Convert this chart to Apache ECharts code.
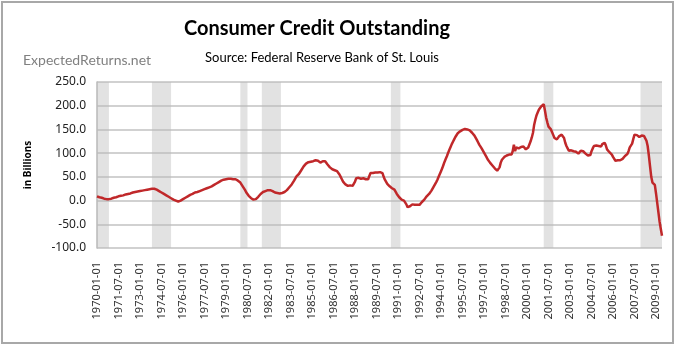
<!DOCTYPE html>
<html>
<head>
<meta charset="utf-8">
<script src="https://cdn.jsdelivr.net/npm/echarts@6/dist/echarts.min.js"></script>
<style>
html,body{margin:0;padding:0;background:#fff;}
#chart{width:680px;height:349px;}
</style>
</head>
<body>
<div id="chart"></div>
<script>
// Monthly categories 1970-01 .. 2009-06
var startYear = 1970, endYear = 2009, endMonth = 6;
var categories = [];
for (var y = startYear; y <= endYear; y++) {
  for (var m = 1; m <= 12; m++) {
    if (y === endYear && m > endMonth) break;
    categories.push(y + '-' + (m < 10 ? '0' + m : m) + '-01');
  }
}

// Year-over-year change in consumer credit outstanding (billions)
var v1970s = [
  9, 8, 7, 6, 6, 5, 4, 4, 3, 3, 3, 4,            // 1970
  4, 5, 6, 6, 7, 8, 9, 9, 10, 11, 11, 12,        // 1971
  13, 13, 14, 15, 15, 16, 17, 17, 18, 18, 19, 19,// 1972
  20, 20, 21, 22, 22, 23, 23, 24, 24, 25, 25, 26,// 1973
  25, 24, 23, 21, 20, 18, 17, 16, 14, 12, 11, 9, // 1974
  8, 6, 5, 3, 2, 1, 0, -1, -2, -1, 0, 2,         // 1975
  3, 5, 6, 8, 9, 11, 12, 13, 14, 15, 17, 18,     // 1976
  18, 19, 20, 21, 22, 23, 24, 25, 26, 27, 28, 29,// 1977
  30, 32, 33, 34, 36, 38, 39, 41, 42, 43, 44, 45,// 1978
  45, 46, 46, 47, 46, 46, 45, 46, 45, 44, 42, 41 // 1979
];
var v1980s = [
  38, 34, 30, 27, 22, 17, 13, 10, 7, 5, 3, 2,    // 1980
  1, 3, 5, 8, 11, 14, 16, 18, 19, 20, 21, 22,    // 1981
  22, 22, 21, 20, 19, 17, 16, 16, 15, 15, 16, 16,// 1982
  17, 18, 20, 22, 25, 28, 31, 34, 37, 42, 46, 51,// 1983
  53, 56, 60, 64, 68, 72, 75, 78, 80, 81, 82, 82,// 1984
  83, 83, 84, 85, 86, 84, 82, 80, 81, 83, 84, 83,// 1985
  80, 76, 72, 70, 68, 66, 65, 64, 63, 62, 60, 55,// 1986
  50, 45, 40, 36, 34, 32, 31, 31, 32, 33, 31, 34,// 1987
  40, 47, 50, 48, 47, 46, 48, 47, 46, 45, 44, 45,// 1988
  52, 58, 59, 58, 58, 59, 60, 59, 60, 60, 61, 58 // 1989
];
var v1990s = [
  50, 44, 40, 35, 31, 30, 28, 26, 24, 23, 20, 14,          // 1990
  10, 7, 4, 2, 1, 0, -3, -8, -14, -16, -12, -9,            // 1991
  -8, -7, -9, -10, -9, -8, -9, -6, -3, 0, 2, 5,            // 1992
  9, 11, 14, 17, 21, 25, 30, 34, 39, 44, 50, 56,           // 1993
  62, 68, 75, 82, 88, 94, 101, 107, 113, 119, 124, 129,    // 1994
  134, 138, 142, 144, 146, 148, 149, 150, 151, 151, 150, 149, // 1995
  148, 146, 143, 140, 137, 133, 128, 123, 118, 114, 110, 106, // 1996
  101, 97, 92, 87, 83, 80, 77, 74, 72, 68, 65, 63,         // 1997
  60, 70, 80, 86, 90, 92, 94, 95, 96, 97, 98, 97,          // 1998
  104, 118, 104, 112, 115, 110, 111, 113, 117, 114, 110, 108 // 1999
];
var v2000s = [
  108, 112, 114, 125, 133, 143, 160, 171, 180, 186, 192, 196, // 2000
  199, 201, 203, 190, 175, 165, 156, 152, 150, 144, 138, 132, // 2001
  131, 129, 131, 136, 140, 139, 140, 132, 122, 115, 110, 105, // 2002
  103, 106, 104, 104, 108, 103, 100, 99, 101, 105, 103, 104,  // 2003
  102, 99, 97, 95, 94, 96, 104, 110, 115, 113, 116, 112,      // 2004
  115, 117, 114, 119, 118, 122, 116, 108, 104, 102, 99, 97,   // 2005
  92, 88, 84, 82, 85, 87, 85, 86, 88, 90, 94, 96,             // 2006
  98, 104, 112, 116, 120, 130, 139, 140, 138, 136, 134, 135,  // 2007
  137, 138, 136, 137, 126, 115, 95, 72, 50, 38, 35, 33,       // 2008
  15, -5, -25, -45, -60, -74                                  // 2009
];
var values = v1970s.concat(v1980s, v1990s, v2000s);

// NBER recession periods (start, end)
var recessionStarts = ['1970-01-01', '1973-11-01', '1980-01-01', '1981-07-01', '1990-07-01', '2001-03-01', '2007-12-01'];
var recessionEnds   = ['1970-11-01', '1975-03-01', '1980-07-01', '1982-11-01', '1991-03-01', '2001-11-01', '2009-06-01'];

var yTicks = { min: -100, max: 250, step: 50 };

var chart = echarts.init(document.getElementById('chart'), null, { renderer: 'canvas' });
var areas = recessionStarts.map(function (s, i) { return [{ xAxis: s }, { xAxis: recessionEnds[i] }]; });

chart.setOption({
  animation: false,
  backgroundColor: '#ffffff',
  title: [
    { text: 'Consumer Credit Outstanding', left: 312, top: 14, textAlign: 'center',
      textStyle: { fontFamily: 'Lato', fontWeight: 'bold', fontSize: 20, color: '#000' } },
    { text: 'Source: Federal Reserve Bank of St. Louis', left: 317, top: 46, textAlign: 'center',
      textStyle: { fontFamily: 'Lato', fontWeight: 'normal', fontSize: 13, color: '#000' } },
    { text: 'ExpectedReturns.net', left: 18, top: 48,
      textStyle: { fontFamily: 'Lato', fontWeight: 'normal', fontSize: 14, color: '#808080' } }
  ],
  graphic: [
    { type: 'rect', shape: { x: 2, y: 2, width: 671, height: 341 },
      style: { fill: 'none', stroke: '#a8a8a8', lineWidth: 2 }, silent: true, z: 100 }
  ],
  grid: { left: 97, right: 18, top: 82, bottom: 101, containLabel: false },
  xAxis: {
    type: 'category',
    data: categories,
    boundaryGap: false,
    axisLine: { show: false, onZero: false },
    axisTick: { show: false },
    splitLine: { show: false },
    axisLabel: {
      interval: 17, rotate: 90, margin: 14,
      fontFamily: 'Noto Sans', fontSize: 11, color: '#333'
    }
  },
  yAxis: {
    type: 'value',
    min: yTicks.min, max: yTicks.max, interval: yTicks.step,
    name: 'in Billions', nameLocation: 'middle', nameGap: 64, nameRotate: 90,
    nameTextStyle: { fontFamily: 'Noto Sans', fontWeight: 'bold', fontSize: 10, color: '#000' },
    axisLine: { show: true, lineStyle: { color: '#b8b8b8', width: 1.5 } },
    axisTick: { show: false },
    splitLine: { show: true, lineStyle: { color: '#c2c2c2', width: 1.5 } },
    axisLabel: {
      margin: 11, fontFamily: 'Noto Sans', fontSize: 12, color: '#222',
      formatter: function (v) { return v.toFixed(1); }
    }
  },
  series: [
    {
      type: 'line', data: values, symbol: 'none', z: 2,
      lineStyle: { color: '#c0282a', width: 2.5 }
    },
    {
      type: 'line', data: values, symbol: 'none', zlevel: 1, z: 5, silent: true,
      lineStyle: { opacity: 0 },
      markArea: {
        silent: true,
        itemStyle: { color: 'rgba(185,185,185,0.42)' },
        data: areas
      }
    }
  ]
});
</script>
</body>
</html>
